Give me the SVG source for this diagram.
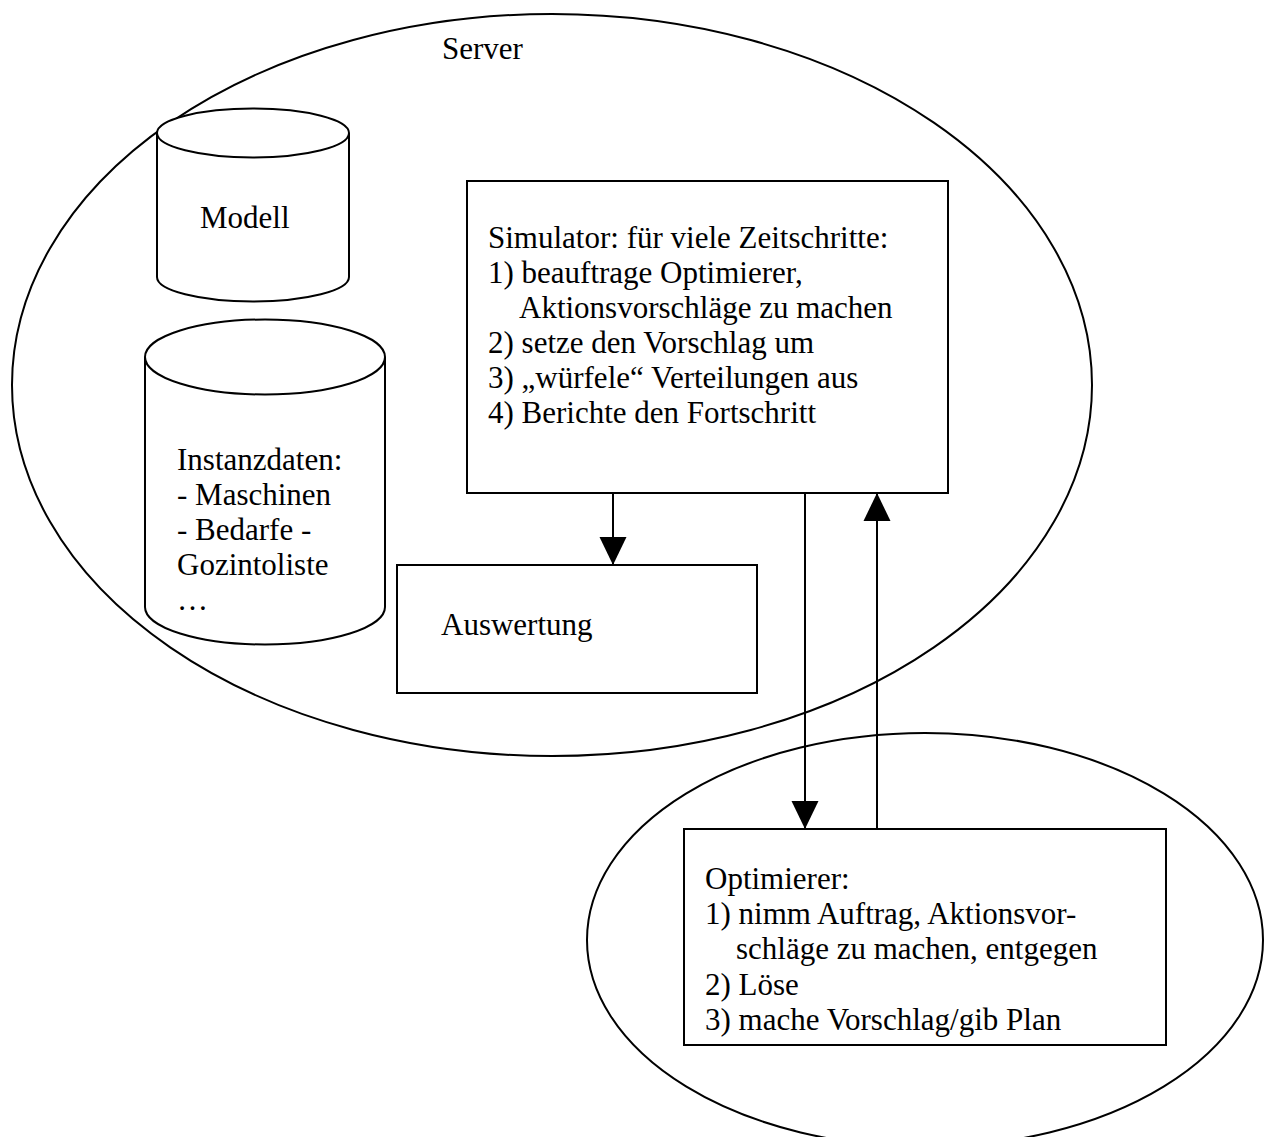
<svg xmlns="http://www.w3.org/2000/svg" width="1268" height="1137" viewBox="0 0 1268 1137">
<style>
.ln{fill:none;stroke:#000;stroke-width:2}
.bx{fill:#fff;stroke:#000;stroke-width:2}
text{font-family:"Liberation Serif","Times New Roman",serif;font-size:31px;fill:#000}
</style>
<defs>
<marker id="ah" markerUnits="userSpaceOnUse" markerWidth="28" markerHeight="28" refX="28" refY="14" orient="auto">
<path d="M0,0.5 L28,14 L0,27.5 z" fill="#000"/>
</marker>
</defs>
<rect width="1268" height="1137" fill="#fff"/>
<g id="server">
<ellipse class="ln" cx="552" cy="385" rx="540" ry="371"/>
<text x="442" y="59">Server</text>
</g>
<g id="optimizer-area">
<ellipse class="ln" cx="925" cy="940" rx="338" ry="207"/>
</g>
<g id="modell">
<path class="bx" d="M157,133 A96,24.5 0 0 1 349,133 L349,277 A96,24.5 0 0 1 157,277 Z"/>
<path class="ln" d="M157,133 A96,24.5 0 0 0 349,133"/>
<text x="200" y="228">Modell</text>
</g>
<g id="instanzdaten">
<path class="bx" d="M145,357 A120,37.5 0 0 1 385,357 L385,607 A120,37.5 0 0 1 145,607 Z"/>
<path class="ln" d="M145,357 A120,37.5 0 0 0 385,357"/>
<text x="177" y="470">Instanzdaten:</text>
<text x="177" y="505">- Maschinen</text>
<text x="177" y="540">- Bedarfe -</text>
<text x="177" y="575">Gozintoliste</text>
<text x="177" y="610">…</text>
</g>
<g id="simulator">
<rect class="bx" x="467" y="181" width="481" height="312"/>
<text x="488" y="248">Simulator: für viele Zeitschritte:</text>
<text x="488" y="283">1) beauftrage Optimierer,</text>
<text x="519" y="318">Aktionsvorschläge zu machen</text>
<text x="488" y="353">2) setze den Vorschlag um</text>
<text x="488" y="388">3) „würfele“ Verteilungen aus</text>
<text x="488" y="423">4) Berichte den Fortschritt</text>
</g>
<g id="auswertung">
<rect class="bx" x="397" y="565" width="360" height="128"/>
<text x="441" y="635">Auswertung</text>
</g>
<g id="optimierer">
<rect class="bx" x="684" y="829" width="482" height="216"/>
<text x="705" y="889">Optimierer:</text>
<text x="705" y="924">1) nimm Auftrag, Aktionsvor-</text>
<text x="736" y="959">schläge zu machen, entgegen</text>
<text x="705" y="995">2) Löse</text>
<text x="705" y="1030">3) mache Vorschlag/gib Plan</text>
</g>
<g id="connectors">
<line class="ln" x1="613" y1="493" x2="613" y2="565" marker-end="url(#ah)"/>
<line class="ln" x1="805" y1="493" x2="805" y2="829" marker-end="url(#ah)"/>
<line class="ln" x1="877" y1="829" x2="877" y2="493" marker-end="url(#ah)"/>
</g>
</svg>
